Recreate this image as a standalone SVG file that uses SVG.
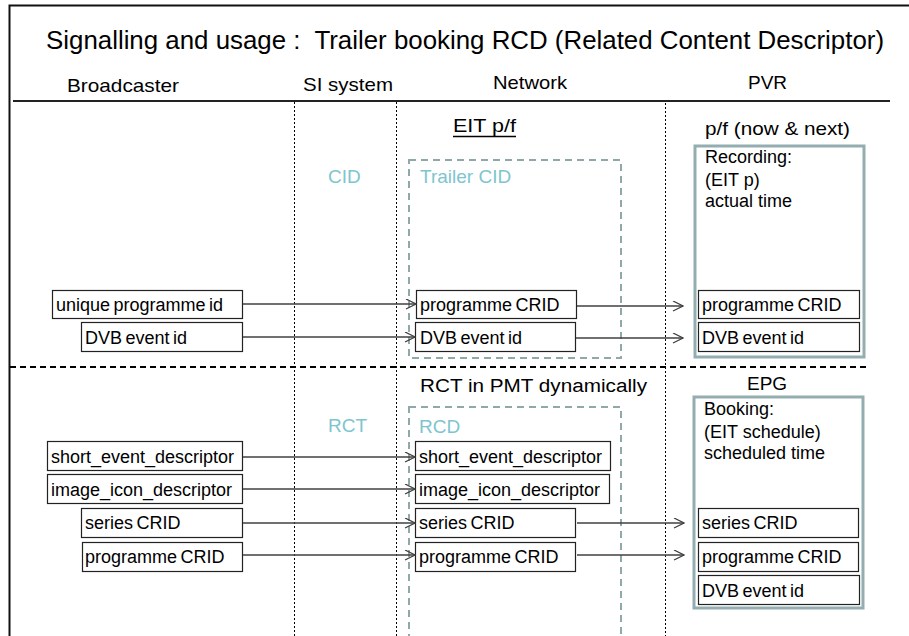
<svg xmlns="http://www.w3.org/2000/svg" width="909" height="636" viewBox="0 0 909 636">
<defs>
<style>
text{font-family:"Liberation Sans",Arial,sans-serif;fill:#000}
.t{font-size:18px}
.w{word-spacing:-1.5px}
.h{font-size:19px}
.teal{fill:#7ec5ce;font-size:19px}
.box{fill:#fff;stroke:#222;stroke-width:1.2}
.dbox{fill:none;stroke:#8fa9aa;stroke-width:2;stroke-dasharray:7,5}
.pbox{fill:#fff;stroke:#93adb0;stroke-width:3}
.dot{stroke:#000;stroke-width:1;stroke-dasharray:2,2}
.arr{stroke:#404040;stroke-width:1.3;fill:none;marker-end:url(#ah)}
</style>
<marker id="ah" markerUnits="userSpaceOnUse" markerWidth="12" markerHeight="12" refX="11" refY="5" orient="auto">
<path d="M1,0 L11,5 L1,10" fill="none" stroke="#404040" stroke-width="1.3"/>
</marker>
</defs>
<rect width="909" height="636" fill="#fff"/>
<g id="frame">
<path d="M9.5,636 V5.5 H909" fill="none" stroke="#111" stroke-width="2"/>
<line x1="13" y1="101" x2="890" y2="101" stroke="#222" stroke-width="2"/>
<line x1="10" y1="367" x2="870" y2="367" stroke="#000" stroke-width="2" stroke-dasharray="6,4"/>
<line class="dot" x1="294.5" y1="102" x2="294.5" y2="636"/>
<line class="dot" x1="396.5" y1="102" x2="396.5" y2="636"/>
<line class="dot" x1="665.5" y1="103" x2="665.5" y2="636"/>
</g>
<g id="titles">
<text x="46" y="49" font-size="25" textLength="838" lengthAdjust="spacingAndGlyphs" xml:space="preserve">Signalling and usage :  Trailer booking RCD (Related Content Descriptor)</text>
<text class="h" x="67" y="92" textLength="112" lengthAdjust="spacingAndGlyphs">Broadcaster</text>
<text class="h" x="303" y="91" textLength="90" lengthAdjust="spacingAndGlyphs">SI system</text>
<text class="h" x="493" y="89" textLength="74" lengthAdjust="spacingAndGlyphs">Network</text>
<text class="h" x="748" y="89">PVR</text>
</g>
<g id="top-labels">
<text x="453" y="132" font-size="19" textLength="63" lengthAdjust="spacingAndGlyphs">EIT p/f</text>
<line x1="453" y1="136.5" x2="516" y2="136.5" stroke="#000" stroke-width="1.5"/>
<text x="705" y="135" font-size="19" textLength="145" lengthAdjust="spacingAndGlyphs">p/f (now &amp; next)</text>
<text class="teal" x="328" y="183">CID</text>
<text class="t" x="420" y="392" textLength="227" lengthAdjust="spacingAndGlyphs">RCT in PMT dynamically</text>
<text x="747" y="390" font-size="19">EPG</text>
<text class="teal" x="328" y="432">RCT</text>
</g>
<g id="trailer-cid">
<rect class="dbox" x="409" y="160" width="212" height="198"/>
<text class="teal" x="420" y="183">Trailer CID</text>
</g>
<g id="pvr-recording">
<rect class="pbox" x="695" y="146" width="169" height="211"/>
<text class="t" x="705" y="163">Recording:</text>
<text class="t" x="705" y="186">(EIT p)</text>
<text class="t" x="705" y="207">actual time</text>
</g>
<g id="rcd">
<rect class="dbox" x="409" y="407" width="212" height="235"/>
<text class="teal" x="419" y="433">RCD</text>
</g>
<g id="epg-booking">
<rect class="pbox" x="694" y="397" width="169" height="211"/>
<text class="t" x="704" y="415">Booking:</text>
<text class="t" x="704" y="438">(EIT schedule)</text>
<text class="t" x="704" y="459">scheduled time</text>
</g>
<g id="b-unique"><rect class="box" x="52.5" y="290.5" width="190" height="28"/><text class="t w" x="56" y="311">unique programme id</text></g>
<g id="b-dvb"><rect class="box" x="81.5" y="322.5" width="161" height="29"/><text class="t w" x="85" y="344">DVB event id</text></g>
<g id="n-prog1"><rect class="box" x="416.5" y="290.5" width="160" height="28"/><text class="t w" x="420" y="311">programme CRID</text></g>
<g id="n-dvb"><rect class="box" x="415.5" y="322.5" width="160" height="29"/><text class="t w" x="420" y="344">DVB event id</text></g>
<g id="p-prog"><rect class="box" x="698.5" y="290.5" width="161" height="28"/><text class="t w" x="702" y="311">programme CRID</text></g>
<g id="p-dvb"><rect class="box" x="698.5" y="322.5" width="161" height="29"/><text class="t w" x="702" y="344">DVB event id</text></g>
<g id="b-short"><rect class="box" x="47.5" y="441.5" width="195" height="29"/><text class="t" x="51" y="463">short_event_descriptor</text></g>
<g id="b-image"><rect class="box" x="47.5" y="474.5" width="195" height="29"/><text class="t" x="51" y="496">image_icon_descriptor</text></g>
<g id="b-series"><rect class="box" x="81.5" y="508.5" width="161" height="29"/><text class="t w" x="85" y="529">series CRID</text></g>
<g id="b-prog"><rect class="box" x="82.5" y="542.5" width="160" height="29"/><text class="t w" x="85" y="563">programme CRID</text></g>
<g id="n-short"><rect class="box" x="415.5" y="441.5" width="195" height="29"/><text class="t" x="419" y="463">short_event_descriptor</text></g>
<g id="n-image"><rect class="box" x="415.5" y="474.5" width="194" height="29"/><text class="t" x="419" y="496">image_icon_descriptor</text></g>
<g id="n-series"><rect class="box" x="415.5" y="508.5" width="160" height="29"/><text class="t w" x="419" y="529">series CRID</text></g>
<g id="n-prog2"><rect class="box" x="415.5" y="542.5" width="160" height="29"/><text class="t w" x="419" y="563">programme CRID</text></g>
<g id="e-series"><rect class="box" x="698.5" y="508.5" width="160" height="29"/><text class="t w" x="702" y="529">series CRID</text></g>
<g id="e-prog"><rect class="box" x="698.5" y="542.5" width="160" height="29"/><text class="t w" x="702" y="563">programme CRID</text></g>
<g id="e-dvb"><rect class="box" x="698.5" y="575.5" width="161" height="29"/><text class="t w" x="702" y="597">DVB event id</text></g>
<g id="connectors">
<line class="arr" x1="243" y1="304" x2="416" y2="304"/>
<line class="arr" x1="243" y1="337" x2="415" y2="337"/>
<line class="arr" x1="577" y1="306" x2="683" y2="306"/>
<line class="arr" x1="576" y1="338" x2="683" y2="338"/>
<line class="arr" x1="243" y1="457" x2="415" y2="457"/>
<line class="arr" x1="243" y1="489" x2="415" y2="489"/>
<line class="arr" x1="243" y1="523" x2="415" y2="523"/>
<line class="arr" x1="243" y1="555" x2="415" y2="555"/>
<line class="arr" x1="577" y1="523" x2="684" y2="523"/>
<line class="arr" x1="577" y1="555" x2="684" y2="555"/>
</g>
</svg>
